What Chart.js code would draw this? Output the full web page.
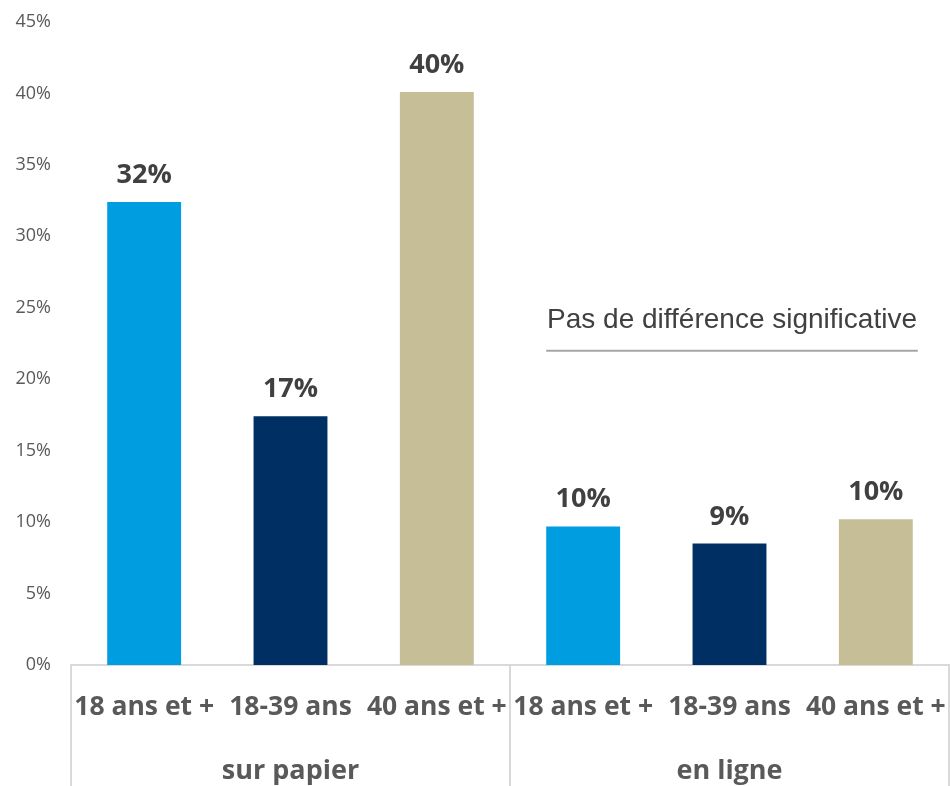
<!DOCTYPE html>
<html>
<head>
<meta charset="utf-8">
<script src="https://cdn.jsdelivr.net/npm/chart.js@4/dist/chart.umd.min.js"></script>
<style>
  html, body { margin: 0; padding: 0; background: #ffffff; }
  #wrap { width: 950px; height: 786px; position: relative; }
</style>
</head>
<body>
<div id="wrap"><canvas id="chart-bar"></canvas></div>
<script>
// ========== data ==========
const categories = ["18 ans et +", "18-39 ans", "40 ans et +", "18 ans et +", "18-39 ans", "40 ans et +"];
const groups = ["sur papier", "en ligne"];
const groupSize = 3;
const values = [32.4, 17.4, 40.1, 9.7, 8.5, 10.2];
const valueLabels = ["32%", "17%", "40%", "10%", "9%", "10%"];
const yTicks = [0, 5, 10, 15, 20, 25, 30, 35, 40, 45];
const noteText = "Pas de différence significative";

const barColors = ["#009EE0", "#003063", "#C5BE97", "#009EE0", "#003063", "#C5BE97"];
const sepColor = "#D9D9D9";

// plugin: value labels, group row, note
const extras = {
  id: "extras",
  afterDatasetsDraw: (chart) => {
    const { ctx, chartArea, scales } = chart;
    const meta = chart.getDatasetMeta(0);
    ctx.save();
    // value labels
    ctx.font = "bold 27px 'Open Sans'";
    ctx.fillStyle = "#404040";
    ctx.textAlign = "center";
    ctx.textBaseline = "alphabetic";
    meta.data.forEach((bar, i) => {
      ctx.fillText(valueLabels[i], bar.x, bar.y - 19);
    });

    // group separators + labels
    const step = (chartArea.right - chartArea.left) / categories.length;
    ctx.strokeStyle = sepColor;
    ctx.lineWidth = 2;
    for (let g = 0; g <= groups.length; g++) {
      const px = Math.round(chartArea.left + g * groupSize * step);
      ctx.beginPath();
      ctx.moveTo(px, chartArea.bottom);
      ctx.lineTo(px, chart.height);
      ctx.stroke();
    }
    ctx.font = "bold 27px 'Open Sans'";
    ctx.fillStyle = "#595959";
    ctx.textBaseline = "middle";
    groups.forEach((g, gi) => {
      const cx = chartArea.left + (gi + 0.5) * groupSize * step;
      ctx.fillText(g, cx, chartArea.bottom + 106);
    });

    // note over the second group
    const y = scales.y;
    const x0 = meta.data[3].x - meta.data[3].width / 2;
    const x1 = meta.data[5].x + meta.data[5].width / 2 + 5;
    ctx.font = "28px 'Liberation Sans'";
    ctx.fillStyle = "#404040";
    ctx.fillText(noteText, (x0 + x1) / 2, y.getPixelForValue(24.1));
    ctx.strokeStyle = "#A6A6A6";
    ctx.lineWidth = 2;
    ctx.beginPath();
    ctx.moveTo(x0, y.getPixelForValue(22.0));
    ctx.lineTo(x1, y.getPixelForValue(22.0));
    ctx.stroke();
    ctx.restore();
  },
};

const ctxBar = document.getElementById("chart-bar").getContext("2d");
const chartBar = new Chart(ctxBar, {
  type: "bar",
  data: {
    labels: categories,
    datasets: [
      {
        data: values,
        backgroundColor: barColors,
        barPercentage: 0.505,
        categoryPercentage: 1,
      },
    ],
  },
  options: {
    responsive: true,
    maintainAspectRatio: false,
    animation: false,
    layout: {
      padding: { top: 22, right: 1, left: 0, bottom: 0 },
    },
    plugins: {
      legend: { display: false },
      tooltip: { enabled: false },
    },
    scales: {
      x: {
        grid: { display: false },
        border: { display: true, color: sepColor, width: 2 },
        ticks: {
          autoSkip: false,
          maxRotation: 0,
          minRotation: 0,
          color: "#595959",
          font: { family: "'Open Sans'", size: 26.5, weight: "bold" },
          padding: 19,
        },
        afterFit: (scale) => {
          scale.height = 121;
          scale.paddingLeft = 0;
          scale.paddingRight = 0;
        },
      },
      y: {
        min: 0,
        max: 45,
        grid: { display: false, drawTicks: false },
        border: { display: false },
        afterBuildTicks: (scale) => {
          scale.ticks = yTicks.map((v) => ({ value: v }));
        },
        ticks: {
          color: "#595959",
          font: { family: "'Open Sans'", size: 18 },
          padding: 20,
          callback: (v) => v + "%",
        },
        afterFit: (scale) => {
          scale.width = 71;
          scale.paddingTop = 0;
          scale.paddingBottom = 0;
        },
      },
    },
  },
  plugins: [extras],
});
</script>
</body>
</html>
